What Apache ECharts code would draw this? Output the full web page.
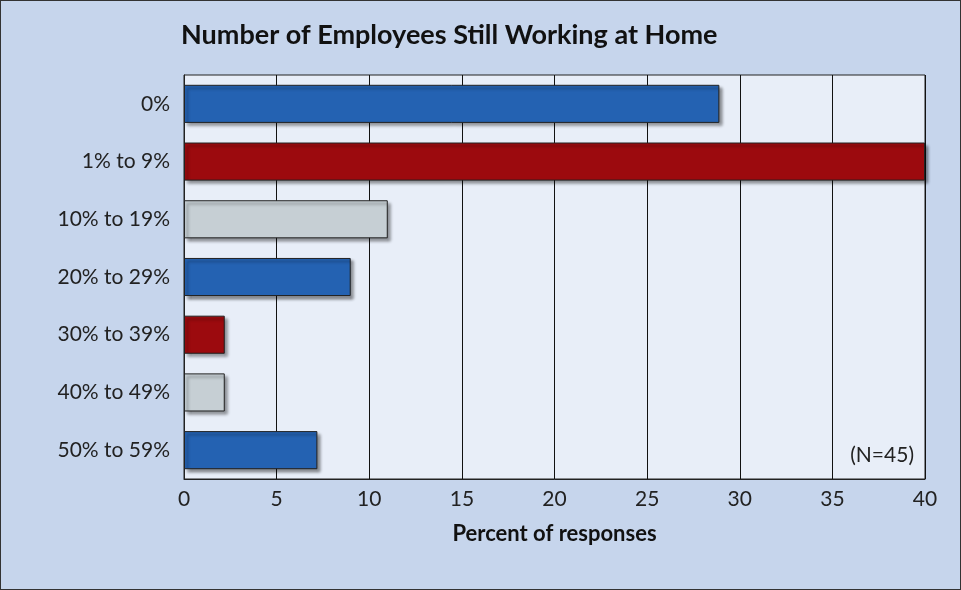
<!DOCTYPE html>
<html>
<head>
<meta charset="UTF-8" />
<script type="text/javascript" src="https://cdn.jsdelivr.net/npm/echarts@6/dist/echarts.min.js"></script>
<style>
  html, body { margin: 0; padding: 0; background: #c6d5ec; }
  #chartmain { width: 959px; height: 588px; border: 1px solid #333; }
</style>
</head>
<body>
<div id="chartmain"></div>
<script type="text/javascript">
  // data
  var categories = ['0%', '1% to 9%', '10% to 19%', '20% to 29%', '30% to 39%', '40% to 49%', '50% to 59%'];
  var values = [28.9, 40, 11.0, 9.0, 2.2, 2.2, 7.2];
  var barColors = ['#2462b2', '#9c0a0e', '#c6cfd4', '#2462b2', '#9c0a0e', '#c6cfd4', '#2462b2'];
  var xTicks = [0, 5, 10, 15, 20, 25, 30, 35, 40];

  var font = 'Lato, "Noto Sans", sans-serif';
  var option = {
    backgroundColor: '#c6d5ec',
    title: {
      text: 'Number of Employees Still Working at Home',
      left: 175, top: 16,
      textStyle: { fontFamily: font, fontSize: 27, fontWeight: 'bold', color: '#111' }
    },
    grid: { left: 183, right: 35, top: 74, bottom: 110, backgroundColor: '#e8eef8', show: true, borderColor: '#222', borderWidth: 1 },
    xAxis: {
      type: 'value', min: xTicks[0], max: xTicks[xTicks.length - 1], interval: 5,
      name: 'Percent of responses', nameLocation: 'middle', nameGap: 44,
      nameTextStyle: { fontFamily: font, fontSize: 22, fontWeight: 'bold', color: '#111' },
      axisLine: { show: true, lineStyle: { color: '#222' } },
      axisTick: { show: false },
      axisLabel: { fontFamily: font, fontSize: 21, color: '#222', margin: 10 },
      splitLine: { show: true, lineStyle: { color: '#111', width: 1 } }
    },
    yAxis: {
      type: 'category', data: categories, inverse: true,
      axisLine: { show: true, lineStyle: { color: '#222' } },
      axisTick: { show: false },
      axisLabel: { fontFamily: font, fontSize: 21, color: '#222', margin: 14 }
    },
    series: [{
      type: 'bar',
      barCategoryGap: '34%',
      data: values.map(function (v, i) {
        return { value: v, itemStyle: { color: barColors[i] } };
      }),
      itemStyle: {
        borderColor: '#222', borderWidth: 1,
        shadowColor: 'rgba(0,0,0,0.45)', shadowBlur: 3, shadowOffsetX: 3, shadowOffsetY: 3
      },
      markPoint: {}
    }],
    graphic: [{
      type: 'text', right: 46, top: 444,
      style: { text: '(N=45)', font: '21px ' + font, fill: '#222' }
    }]
  };
  var myChart = echarts.init(document.getElementById('chartmain'));
  myChart.setOption(option);
</script>
</body>
</html>
